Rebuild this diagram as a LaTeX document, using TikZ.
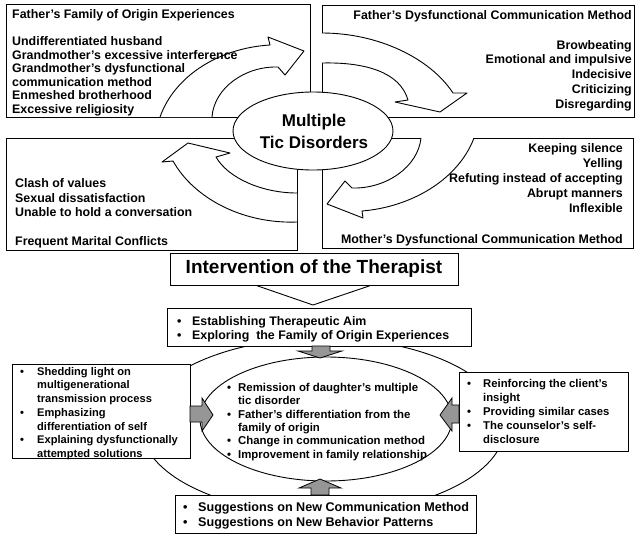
\documentclass[tikz,border=0pt]{standalone}
\usepackage{fontspec}
\setmainfont{Liberation Sans}
\usetikzlibrary{shapes.geometric}
\definecolor{arrowgray}{RGB}{150,150,150}
\newcommand{\mybul}[1]{\makebox[#1][l]{\textbullet}}
\newcommand{\pathArrA}{(160,117) .. controls (175,75) and (220,48) .. (270,45) -- (268,37) -- (304,51) -- (285,75) -- (278,67) .. controls (245,66) and (214,88) .. (212,117)}
\newcommand{\pathArrB}{(322,33) .. controls (378,33) and (430,58) .. (453,93) -- (467,93) -- (440,112) -- (395,102) -- (408,100) .. controls (400,72) and (365,62) .. (322,63)}
\newcommand{\pathArrC}{(474,138) .. controls (458,180) and (411,207) .. (362,211) -- (363,218) -- (327,204) -- (345,181) -- (352,188) .. controls (386,189) and (418,167) .. (421,138)}
\newcommand{\pathArrD}{(297,222) .. controls (245,224) and (195,200) .. (173,161) -- (162,162) -- (188,143) -- (230,153) -- (216,157) .. controls (228,178) and (262,193) .. (297,193)}
\begin{document}
\begin{tikzpicture}[x=1pt,y=-1pt,
  box/.style={draw=black, line width=0.9pt, fill=white, rectangle, inner sep=0pt, anchor=north west},
  txt/.style={inner sep=0pt, font=\bfseries\fontsize{12.4}{13.5}\selectfont},
  bigtxt/.style={inner sep=0pt},
  edge/.style={draw=black, line width=0.9pt, line join=round},
  grayarrow/.style={draw=black, line width=0.8pt, fill=arrowgray, line join=miter},
]
\useasboundingbox (0,0) rectangle (641,539);

% ---------- upper part: four boxes ----------
\node[box, minimum width=304pt, minimum height=113pt] (tl) at (6,4) {};
\node[box, minimum width=312pt, minimum height=112pt] (tr) at (322,5) {};
\node[box, minimum width=291pt, minimum height=112pt] (bl) at (6,138) {};
\node[box, minimum width=311pt, minimum height=110pt] (br) at (322,138) {};

% ---------- curved block arrows ----------
\fill[white] \pathArrA -- cycle;  \draw[edge] \pathArrA;
\fill[white] \pathArrB -- cycle;  \draw[edge] \pathArrB;
\fill[white] \pathArrC -- cycle;  \draw[edge] \pathArrC;
\fill[white] \pathArrD -- cycle;  \draw[edge] \pathArrD;

% ---------- central ellipse ----------
\node[ellipse, draw=black, line width=0.9pt, fill=white, inner sep=0pt,
      minimum width=160pt, minimum height=78pt] (tic) at (313,131) {};
\node[bigtxt, align=center, font=\bfseries\fontsize{17}{22}\selectfont] (tictxt) at (314,131) {Multiple\\Tic Disorders};

% ---------- texts of the four boxes ----------
\node[txt, anchor=north west, align=left] (tltxt) at (12,9.4) {Father's Family of Origin Experiences\\[13.5pt]
Undifferentiated husband\\
Grandmother's excessive interference\\
Grandmother's dysfunctional\\
communication method\\
Enmeshed brotherhood\\
Excessive religiosity};

\node[txt, anchor=north east, align=right, font=\bfseries\fontsize{12.4}{14.8}\selectfont] (trtxt) at (632,10.4) {Father's Dysfunctional Communication Method\\[14.8pt]
Browbeating\\
Emotional and impulsive\\
Indecisive\\
Criticizing\\
Disregarding};

\node[txt, anchor=north west, align=left, font=\bfseries\fontsize{12.4}{14.6}\selectfont] (bltxt) at (15,178.4) {Clash of values\\
Sexual dissatisfaction\\
Unable to hold a conversation\\[14.6pt]
Frequent Marital Conflicts};

\node[txt, anchor=north east, align=right, font=\bfseries\fontsize{12.4}{15.1}\selectfont] (brtxt) at (623,143.4) {Keeping silence\\
Yelling\\
Refuting instead of accepting\\
Abrupt manners\\
Inflexible\\[15.1pt]
Mother's Dysfunctional Communication Method};

% ---------- intervention ----------
\draw[edge] (255,285) -- (313,305) -- (372,285);
\node[box, anchor=north west, minimum width=288pt, minimum height=32pt] (interv) at (170,253) {};
\node[bigtxt, font=\bfseries\fontsize{19}{22}\selectfont] (intervtxt) at (314,269) {Intervention of the Therapist};

% ---------- lower cycle ----------
\node[ellipse, draw=black, line width=0.9pt, inner sep=0pt,
      minimum width=364pt, minimum height=176pt] (outer) at (323,426) {};
\node[box, minimum width=304pt, minimum height=38pt] (estab) at (167,308) {};
\node[box, minimum width=178pt, minimum height=94pt] (lbox) at (12,364) {};
\node[box, minimum width=169pt, minimum height=79pt] (rbox) at (459,372) {};
\node[box, minimum width=301pt, minimum height=38pt] (sugg) at (175,495) {};
\node[ellipse, draw=black, line width=0.9pt, fill=white, inner sep=0pt,
      minimum width=252pt, minimum height=124pt] (inner) at (326,419) {};

% gray block arrows
\draw[grayarrow] (312,346) -- (312,351) -- (298,351) -- (320,358) -- (342,351) -- (330,351) -- (330,346) -- cycle;
\draw[grayarrow] (190,406) -- (202,406) -- (202,398) -- (213,415) -- (202,431) -- (202,422) -- (190,422) -- cycle;
\draw[grayarrow] (459,405) -- (452,405) -- (452,398) -- (440,415) -- (452,431) -- (452,423) -- (459,423) -- cycle;
\draw[grayarrow] (311,495) -- (311,488) -- (299,488) -- (320,479) -- (341,488) -- (329,488) -- (329,495) -- cycle;

% texts of the lower part
\node[txt, anchor=north west, align=left, font=\bfseries\fontsize{12.4}{14}\selectfont] (estabtxt) at (177,316.5) {\mybul{15pt}Establishing Therapeutic Aim\\
\mybul{15pt}Exploring\ \ the Family of Origin Experiences};

\node[txt, anchor=north west, align=left, font=\bfseries\fontsize{11.1}{13.7}\selectfont] (ltxt) at (20,367) {\mybul{17pt}Shedding light on\\
\hspace*{17pt}multigenerational\\
\hspace*{17pt}transmission process\\
\mybul{17pt}Emphasizing\\
\hspace*{17pt}differentiation of self\\
\mybul{17pt}Explaining dysfunctionally\\
\hspace*{17pt}attempted solutions};

\node[txt, anchor=north west, align=left, font=\bfseries\fontsize{11.3}{14}\selectfont] (rtxt) at (467,379) {\mybul{16pt}Reinforcing the client's\\
\hspace*{16pt}insight\\
\mybul{16pt}Providing similar cases\\
\mybul{16pt}The counselor's self-\\
\hspace*{16pt}disclosure};

\node[txt, anchor=north west, align=left, font=\bfseries\fontsize{11.4}{13.4}\selectfont] (innertxt) at (227,382.8) {\mybul{11pt}Remission of daughter's multiple\\
\hspace*{11pt}tic disorder\\
\mybul{11pt}Father's differentiation from the\\
\hspace*{11pt}family of origin\\
\mybul{11pt}Change in communication method\\
\mybul{11pt}Improvement in family relationship};

\node[txt, anchor=north west, align=left, font=\bfseries\fontsize{12.6}{15}\selectfont] (suggtxt) at (183,502.4) {\mybul{15pt}Suggestions on New Communication Method\\
\mybul{15pt}Suggestions on New Behavior Patterns};
\end{tikzpicture}
\end{document}
